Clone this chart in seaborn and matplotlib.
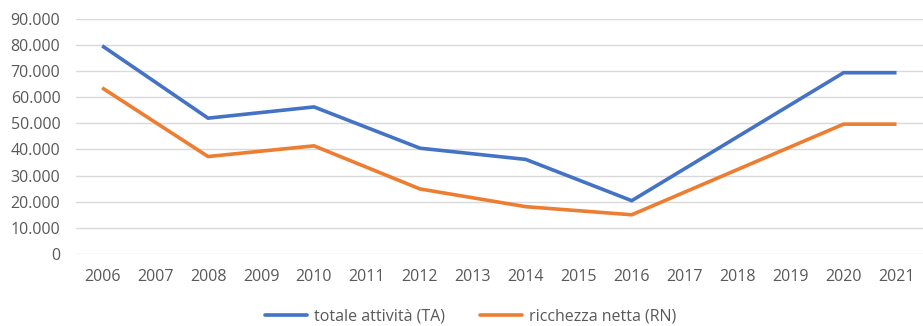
import matplotlib
matplotlib.use("Agg")
import matplotlib.pyplot as plt
import matplotlib.ticker as mticker
import numpy as np
import pandas as pd
import seaborn as sns

years = list(range(2006, 2022))
totale_attivita = [79700, np.nan, 52000, np.nan, 56300, np.nan, 40500, np.nan,
                   36200, np.nan, 20400, np.nan, np.nan, np.nan, 69400, 69400]
ricchezza_netta = [63600, np.nan, 37300, np.nan, 41400, np.nan, 24900, np.nan,
                   18100, np.nan, 15000, np.nan, np.nan, np.nan, 49700, 49700]
series_names = ["totale attività (TA)", "ricchezza netta (RN)"]
colors = ["#4472C4", "#ED7D31"]
y_ticks = list(range(0, 90001, 10000))

df = pd.DataFrame({
    "anno": years * 2,
    "valore": totale_attivita + ricchezza_netta,
    "serie": [series_names[0]] * len(years) + [series_names[1]] * len(years),
}).dropna()

sns.set_theme(style="white")
plt.rcParams["font.family"] = ["Open Sans", "DejaVu Sans"]

fig = plt.figure(figsize=(9.23, 3.26), dpi=100)
ax = fig.add_axes([0.082, 0.221, 0.918, 0.721])

sns.lineplot(data=df, x="anno", y="valore", hue="serie", hue_order=series_names,
             palette=colors, linewidth=2.6, ax=ax, legend=False, sort=True)
for line in ax.lines:
    line.set_solid_joinstyle("miter")
    line.set_solid_capstyle("butt")

ax.set_xlim(2005.5, 2021.5)
ax.set_ylim(0, 90000)
ax.set_xticks(years)
ax.set_yticks(y_ticks)
ax.yaxis.set_major_formatter(mticker.FuncFormatter(
    lambda v, _: "0" if v == 0 else f"{int(v):,}".replace(",", ".")))
ax.grid(axis="y", color="#D9D9D9", linewidth=1)
ax.set_axisbelow(True)
for s in ax.spines.values():
    s.set_visible(False)
ax.tick_params(axis="both", length=0, labelsize=11.5, labelcolor="#595959")
ax.tick_params(axis="x", pad=11)
ax.tick_params(axis="y", pad=11)
ax.set_xlabel("")
ax.set_ylabel("")

handles = [plt.Line2D([], [], color=c, linewidth=2.6) for c in colors]
fig.legend(handles, series_names, loc="center", bbox_to_anchor=(0.51, 0.03),
           ncol=2, frameon=False, handlelength=2.63, columnspacing=2.2,
           handletextpad=0.45, prop={"size": 11.5})
for t in fig.legends[0].get_texts():
    t.set_color("#595959")

fig.savefig("out.png", dpi=100)
